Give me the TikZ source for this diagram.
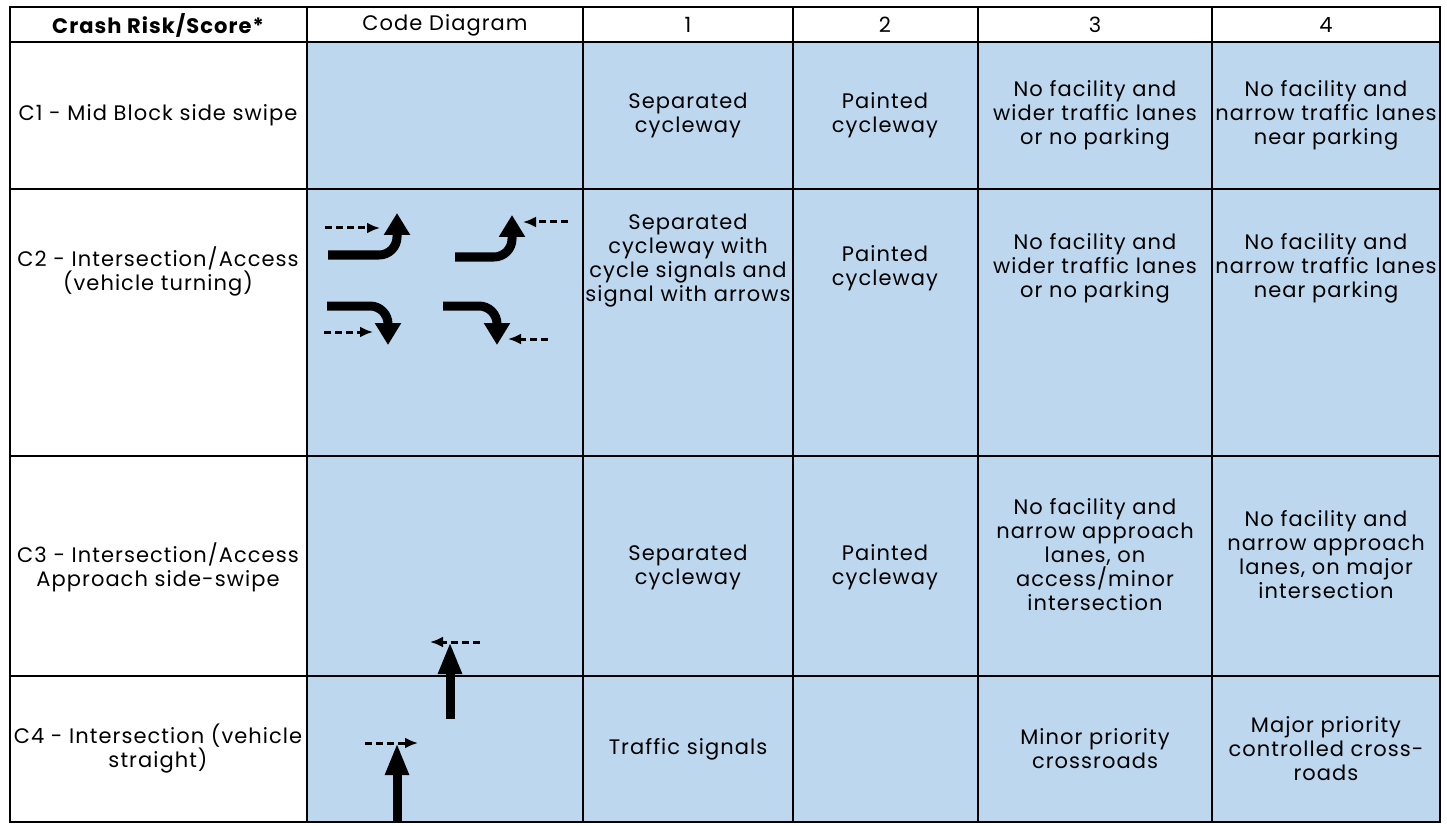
\documentclass[tikz,border=0pt]{standalone}
\usepackage{fontspec}
\setmainfont[LetterSpace=5]{Poppins}
\usetikzlibrary{arrows.meta}

\definecolor{cellblue}{RGB}{189,215,238}

\begin{document}
\begin{tikzpicture}[x=1pt, y=-1pt,
	cell/.style={align=center, font=\fontsize{21}{24}\selectfont, inner sep=0pt},
	grid/.style={line width=2.5pt},
	turn/.style={line width=9pt, rounded corners=18pt, -{Triangle[width=25pt,length=22pt]}},
	ahead/.style={line width=9pt, -{Triangle[width=22pt,length=32pt]}},
	bike/.style={line width=3pt, dash pattern=on 7pt off 4pt, -{Latex[length=13pt,width=11pt]}}]
	\useasboundingbox (0,0) rectangle (1447,826);

	% Shaded body and grid
	\fill [cellblue] (307,42) rectangle (1440,822);
	\foreach \x in {307,583,793,978,1212}
		\draw [grid] (\x,7) -- (\x,822);
	\foreach \y in {42,189,456,676}
		\draw [grid] (10,\y) -- (1440,\y);
	\draw [grid] (10,7) rectangle (1440,822);

	% Header {risk, diagram, 1, 2, 3, 4}
	\node [cell] (hRisk)  at (158,25)  {\bfseries Crash Risk/Score*};
	\node [cell] (hCode)  at (445,25)  {Code Diagram};
	\node [cell] (hOne)   at (688,25)  {1};
	\node [cell] (hTwo)   at (885,25)  {2};
	\node [cell] (hThree) at (1095,25) {3};
	\node [cell] (hFour)  at (1326,25) {4};

	% C1
	\node [cell] (c1Name)  at (158,115)  {C1 - Mid Block side swipe};
	\node [cell] (c1One)   at (688,115)  {Separated\\cycleway};
	\node [cell] (c1Two)   at (885,115)  {Painted\\cycleway};
	\node [cell] (c1Three) at (1095,115) {No facility and\\wider traffic lanes\\or no parking};
	\node [cell] (c1Four)  at (1326,115) {No facility and\\narrow traffic lanes\\near parking};

	% C2
	\node [cell] (c2Name)  at (158,271)  {C2 - Intersection/Access\\(vehicle turning)};
	\node [cell] (c2One)   at (688,261)  {Separated\\cycleway with\\cycle signals and\\signal with arrows};
	\node [cell] (c2Two)   at (885,268)  {Painted\\cycleway};
	\node [cell] (c2Three) at (1095,268) {No facility and\\wider traffic lanes\\or no parking};
	\node [cell] (c2Four)  at (1326,268) {No facility and\\narrow traffic lanes\\near parking};

	% C3
	\node [cell] (c3Name)  at (158,567)  {C3 - Intersection/Access\\Approach side-swipe};
	\node [cell] (c3One)   at (688,567)  {Separated\\cycleway};
	\node [cell] (c3Two)   at (885,567)  {Painted\\cycleway};
	\node [cell] (c3Three) at (1095,555) {No facility and\\narrow approach\\lanes, on\\access/minor\\intersection};
	\node [cell] (c3Four)  at (1326,555) {No facility and\\narrow approach\\lanes, on major\\intersection};

	% C4
	\node [cell] (c4Name)  at (158,749)  {C4 - Intersection (vehicle\\straight)};
	\node [cell] (c4One)   at (688,749)  {Traffic signals};
	\node [cell] (c4Three) at (1095,749) {Minor priority\\crossroads};
	\node [cell] (c4Four)  at (1326,749) {Major priority\\controlled cross-\\roads};

	% Turning vehicles and cyclists
	\draw [turn] (328,255) -- (397,255) -- (397,213);
	\draw [bike] (325,228) -- (380,228);
	\draw [turn] (455,257) -- (512,257) -- (512,215);
	\draw [bike] (568,222) -- (523,222);
	\draw [turn] (327,306) -- (388,306) -- (388,345);
	\draw [bike] (324,332) -- (373,332);
	\draw [turn] (443,306) -- (497,306) -- (497,345);
	\draw [bike] (548,339) -- (508,339);

	% Straight-through vehicles
	\draw [ahead] (450,719) -- (450,642);
	\draw [bike]  (480,642) -- (430,642);
	\draw [ahead] (397,822) -- (397,743);
	\draw [bike]  (365,743) -- (418,743);
\end{tikzpicture}
\end{document}
